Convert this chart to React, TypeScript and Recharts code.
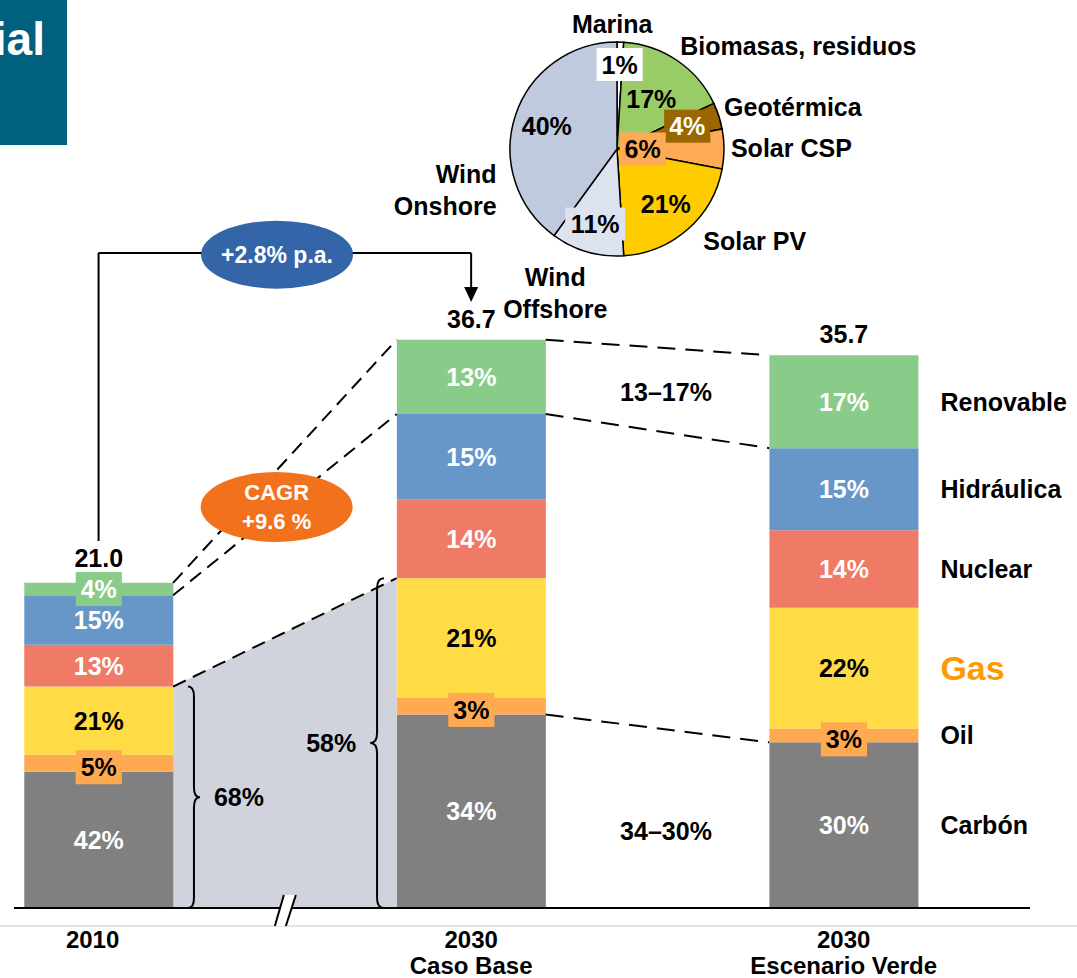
import {
  Bar,
  Cell,
  ComposedChart,
  LabelList,
  Pie,
  PieChart,
  ReferenceArea,
  ReferenceDot,
  ReferenceLine,
  XAxis,
  YAxis,
} from "recharts";

const FONT = "'Liberation Sans', Arial, Helvetica, sans-serif";

// bar categories (numeric x so the bars can sit where the slide puts them)
const categoryX = [0, 1, 2];
const categoryYear = ["2010", "2030", "2030"];
const categoryCase = ["", "Caso Base", "Escenario Verde"];

// generation by source
const carbon = [8.8, 12.5, 10.7];
const oil = [1.1, 1.1, 0.9];
const gas = [4.4, 7.7, 7.8];
const nuclear = [2.7, 5.1, 5.0];
const hydro = [3.2, 5.5, 5.3];
const renewable = [0.8, 4.8, 6.0];
const totals = [21.0, 36.7, 35.7];

// shares printed inside the segments
const carbonShare = [42, 34, 30];
const oilShare = [5, 3, 3];
const gasShare = [21, 21, 22];
const nuclearShare = [13, 14, 14];
const hydroShare = [15, 15, 15];
const renewableShare = [4, 13, 17];

// renewable mix pie
const pieNames = ["Marina", "Biomasas, residuos", "Geotérmica", "Solar CSP", "Solar PV", "Wind Offshore", "Wind Onshore"];
const pieShares = [1, 17, 4, 6, 21, 11, 40];

const series = [
  { key: "carbon", name: "Carbón", color: "#808080", text: "#fff", shares: carbonShare, dy: 0 },
  { key: "oil", name: "Oil", color: "#FFAA50", text: "#000", shares: oilShare, dy: 4 },
  { key: "gas", name: "Gas", color: "#FFDC46", text: "#000", shares: gasShare, dy: 0 },
  { key: "nuclear", name: "Nuclear", color: "#EF7A65", text: "#fff", shares: nuclearShare, dy: 0 },
  { key: "hydro", name: "Hidráulica", color: "#6796C9", text: "#fff", shares: hydroShare, dy: 0 },
  { key: "renewable", name: "Renovable", color: "#89CB88", text: "#fff", shares: renewableShare, dy: 0 },
];

const rows = categoryX.map((x, i) => ({
  x,
  carbon: carbon[i],
  oil: oil[i],
  gas: gas[i],
  nuclear: nuclear[i],
  hydro: hydro[i],
  renewable: renewable[i],
}));

const pieColors = ["#FFFFFF", "#99CC66", "#996600", "#FFAA55", "#FFCC00", "#DCE2EE", "#C0CADF"];
// label styling for the pie
const pctRadius = [0.79, 0.57, 0.69, 0.24, 0.69, 0.73, 0.69];
const pctBox = ["#FFFFFF", "", "#996600", "#FFAA55", "", "#DCE2EE", ""];
const pctColor = ["#000", "#000", "#fff", "#000", "#000", "#000", "#000"];
const nameRadius = [1.17, 1.13, 1.075, 1.065, 1.18, 1.465, 1.19];
const nameShift = [4, 2.7, 3.4, 0.5, 1.7, -7, 37];
const nameAnchor = ["middle", "start", "start", "start", "start", "middle", "end"];

const textW = (s: string, fs: number) =>
  s.split("").reduce((w, c) => w + (c === "%" ? 0.889 : /[0-9]/.test(c) ? 0.556 : 0.6), 0) * fs;

const stackTop = (i: number, upto: number) =>
  [carbon, oil, gas, nuclear, hydro, renewable].slice(0, upto).reduce((s, a) => s + a[i], 0);

const txt = { fontFamily: FONT, fontWeight: 700 } as const;

function segmentLabel(s: (typeof series)[number]) {
  return (props: any) => {
    const vb = props.viewBox ?? props;
    const x = vb.x ?? props.x;
    const width = vb.width ?? props.width;
    let y = vb.y ?? props.y;
    let height = vb.height ?? props.height;
    if (height < 0) {
      y += height;
      height = -height;
    }
    const index = props.index;
    const t = `${s.shares[index]}%`;
    const cx = x + width / 2;
    const cy = y + height / 2 + s.dy;
    const w = textW(t, 25) + 10;
    return (
      <g>
        <rect x={cx - w / 2} y={cy - 17} width={w} height={34} fill={s.color} />
        <text x={cx} y={cy} textAnchor="middle" dominantBaseline="central" fill={s.text} fontSize={25} style={txt}>
          {t}
        </text>
        {index === 2 && (
          <text
            x={x + width + 22}
            y={y + height / 2}
            dominantBaseline="central"
            fill={s.key === "gas" ? "#FF9900" : "#000"}
            fontSize={s.key === "gas" ? 34 : 25}
            style={txt}
          >
            {s.name}
          </text>
        )}
      </g>
    );
  };
}

const totalLabel = (props: any) => {
  const vb = props.viewBox ?? props;
  const x = vb.x ?? props.x;
  const width = vb.width ?? props.width;
  const y = vb.y ?? props.y;
  return (
    <text x={x + width / 2} y={y - (props.index === 0 ? 25 : 21)} textAnchor="middle" dominantBaseline="central" fontSize={25} style={txt}>
      {totals[props.index].toFixed(1)}
    </text>
  );
};

const CategoryTick = (props: any) => {
  const { x, y, payload } = props;
  const i = categoryX.indexOf(payload.value);
  if (i < 0) return null;
  return (
    <text x={x} y={y} textAnchor="middle" fontSize={24} style={txt}>
      <tspan x={i === 0 ? x - 6 : x} dy={40}>{categoryYear[i]}</tspan>
      {categoryCase[i] && <tspan x={x} dy={26}>{categoryCase[i]}</tspan>}
    </text>
  );
};

function brace(dir: number, label: string) {
  return (p: any) => {
    const stem = p.x + p.width / 2;
    const d = p.width / 2;
    const top = p.y;
    const bot = p.y + p.height;
    const mid = (top + bot) / 2;
    const path = `M${stem - dir * d},${top} Q${stem},${top} ${stem},${top + 10} L${stem},${mid - 10} Q${stem},${mid} ${stem + dir * d},${mid} Q${stem},${mid} ${stem},${mid + 10} L${stem},${bot - 10} Q${stem},${bot} ${stem - dir * d},${bot}`;
    return (
      <g>
        <path d={path} fill="none" stroke="#000" strokeWidth={2} />
        <text
          x={stem + dir * (d + 14)}
          y={mid}
          textAnchor={dir > 0 ? "start" : "end"}
          dominantBaseline="central"
          fontSize={25}
          style={txt}
        >
          {label}
        </text>
      </g>
    );
  };
}

const shadeShape = (leftTop: number, rightTop: number) => (p: any) => {
  const bot = p.y + p.height;
  const yl = bot - (p.height * leftTop) / rightTop;
  return <polygon points={`${p.x},${bot} ${p.x},${yl} ${p.x + p.width},${p.y} ${p.x + p.width},${bot}`} fill="#D0D3DB" />;
};

const bubble = (lines: string[], color: string, rx: number, ry: number, fs: number) => (p: any) => (
  <g>
    <ellipse cx={p.cx} cy={p.cy} rx={rx} ry={ry} fill={color} />
    {lines.map((l, i) => (
      <text
        key={i}
        x={p.cx}
        y={p.cy + (i - (lines.length - 1) / 2) * 29}
        textAnchor="middle"
        dominantBaseline="central"
        fill="#fff"
        fontSize={fs}
        style={txt}
      >
        {l}
      </text>
    ))}
  </g>
);

const plainText = (t: string) => (p: any) => (
  <text x={p.cx} y={p.cy} textAnchor="middle" dominantBaseline="central" fontSize={25} style={txt}>
    {t}
  </text>
);

const arrowHead = (p: any) => <polygon points={`${p.cx - 7},${p.cy - 15} ${p.cx + 7},${p.cy - 15} ${p.cx},${p.cy}`} fill="#000" />;

const axisBreak = (p: any) => (
  <g>
    <polygon points={`${p.cx - 1},${p.cy - 13} ${p.cx + 11},${p.cy - 13} ${p.cx + 1},${p.cy + 18} ${p.cx - 10},${p.cy + 18}`} fill="#fff" />
    <line x1={p.cx - 1} y1={p.cy - 13} x2={p.cx - 10} y2={p.cy + 18} stroke="#000" strokeWidth={2} />
    <line x1={p.cx + 11} y1={p.cy - 13} x2={p.cx + 1} y2={p.cy + 18} stroke="#000" strokeWidth={2} />
  </g>
);

const RAD = Math.PI / 180;
const pieLabel = (props: any) => {
  const { cx, cy, midAngle, outerRadius, index } = props;
  const pr = outerRadius * pctRadius[index];
  const px = cx + pr * Math.cos(midAngle * RAD);
  const py = cy - pr * Math.sin(midAngle * RAD);
  const t = `${pieShares[index]}%`;
  const w = textW(t, 25) + 10;
  const na = midAngle + nameShift[index];
  const nr = outerRadius * nameRadius[index];
  const nx = cx + nr * Math.cos(na * RAD);
  const ny = cy - nr * Math.sin(na * RAD);
  const name = pieNames[index];
  const nameLines = name.startsWith("Wind") ? name.split(" ") : [name];
  return (
    <g>
      {pctBox[index] && <rect x={px - w / 2} y={py - 16.5} width={w} height={33} fill={pctBox[index]} />}
      <text x={px} y={py} textAnchor="middle" dominantBaseline="central" fill={pctColor[index]} fontSize={25} style={txt}>
        {t}
      </text>
      {nameLines.map((l, i) => (
        <text
          key={i}
          x={nx}
          y={ny + (i - (nameLines.length - 1) / 2) * 32}
          textAnchor={nameAnchor[index] as any}
          dominantBaseline="central"
          fill="#000"
          fontSize={25}
          style={txt}
        >
          {l}
        </text>
      ))}
    </g>
  );
};

export default function App() {
  return (
    <div style={{ position: "absolute", left: 0, top: 0, width: 1077, height: 978, background: "#fff", overflow: "hidden" }}>
      <svg width={1077} height={978} style={{ position: "absolute", left: 0, top: 0 }}>
        <rect x={0} y={0} width={67} height={145} fill="#00617F" />
        <text x={45} y={55} textAnchor="end" fill="#fff" fontSize={46} style={txt}>
          ial
        </text>
        <line x1={0} y1={926} x2={1077} y2={926} stroke="#C8C8D0" strokeWidth={1} />
      </svg>

      <div style={{ position: "absolute", left: 0, top: 0 }}>
        <ComposedChart width={1077} height={978} data={rows} margin={{ top: 10, right: 47, left: 14, bottom: 0 }}>
          <XAxis
            dataKey="x"
            type="number"
            domain={[-0.227, 2.5]}
            ticks={categoryX}
            allowDataOverflow
            height={70}
            tickSize={0}
            tickMargin={0}
            tickLine={false}
            axisLine={{ stroke: "#000", strokeWidth: 2 }}
            tick={<CategoryTick />}
            interval={0}
          />
          <YAxis hide domain={[0, 58]} allowDataOverflow />

          <ReferenceArea x1={0.2} x2={0.8} y1={0} y2={stackTop(1, 3)} shape={shadeShape(stackTop(0, 3), stackTop(1, 3))} />

          {series.map((s) => (
            <Bar key={s.key} dataKey={s.key} stackId="a" fill={s.color} barSize={149} isAnimationActive={false}>
              <LabelList content={segmentLabel(s)} />
              {s.key === "renewable" && <LabelList content={totalLabel} />}
            </Bar>
          ))}

          <ReferenceArea x1={0.24} x2={0.272} y1={0} y2={stackTop(0, 3)} shape={brace(1, "68%")} />
          <ReferenceArea x1={0.729} x2={0.766} y1={0} y2={stackTop(1, 3)} shape={brace(-1, "58%")} />

          {/* dashed links between the bars */}
          <ReferenceLine segment={[{ x: 0.2, y: totals[0] }, { x: 0.8, y: totals[1] }]} stroke="#000" strokeWidth={2} strokeDasharray="14 8" />
          <ReferenceLine segment={[{ x: 0.2, y: stackTop(0, 5) }, { x: 0.8, y: stackTop(1, 5) }]} stroke="#000" strokeWidth={2} strokeDasharray="14 8" />
          <ReferenceLine segment={[{ x: 0.2, y: stackTop(0, 3) }, { x: 0.8, y: stackTop(1, 3) }]} stroke="#000" strokeWidth={2} strokeDasharray="14 8" />
          <ReferenceLine segment={[{ x: 1.2, y: totals[1] }, { x: 1.8, y: totals[2] }]} stroke="#000" strokeWidth={2} strokeDasharray="18 10" />
          <ReferenceLine segment={[{ x: 1.2, y: stackTop(1, 5) }, { x: 1.8, y: stackTop(2, 5) }]} stroke="#000" strokeWidth={2} strokeDasharray="18 10" />
          <ReferenceLine segment={[{ x: 1.2, y: stackTop(1, 1) }, { x: 1.8, y: stackTop(2, 1) }]} stroke="#000" strokeWidth={2} strokeDasharray="18 10" />

          {/* growth connector */}
          <ReferenceLine segment={[{ x: 0, y: 23.7 }, { x: 0, y: 42.3 }]} stroke="#000" strokeWidth={2} />
          <ReferenceLine segment={[{ x: 0, y: 42.3 }, { x: 1, y: 42.3 }]} stroke="#000" strokeWidth={2} />
          <ReferenceLine segment={[{ x: 1, y: 42.3 }, { x: 1, y: 40.0 }]} stroke="#000" strokeWidth={2} />
          <ReferenceDot x={1} y={39.14} r={0} shape={arrowHead} />
          <ReferenceDot x={0.479} y={42.2} r={0} shape={bubble(["+2.8% p.a."], "#3465A8", 76, 34, 23)} />
          <ReferenceDot x={0.478} y={25.9} r={0} shape={bubble(["CAGR", "+9.6 %"], "#F2711C", 76, 35, 22)} />

          <ReferenceDot x={1.523} y={33.3} r={0} shape={plainText("13–17%")} />
          <ReferenceDot x={1.523} y={5.0} r={0} shape={plainText("34–30%")} />
          <ReferenceDot x={0.5} y={0} r={0} shape={axisBreak} />
        </ComposedChart>
      </div>

      <div style={{ position: "absolute", left: 0, top: 0 }}>
        <PieChart width={1077} height={330} margin={{ top: 0, right: 0, bottom: 0, left: 0 }}>
          <Pie
            data={pieNames.map((n, i) => ({ name: n, value: pieShares[i] }))}
            dataKey="value"
            cx={617}
            cy={149}
            outerRadius={107}
            startAngle={90}
            endAngle={-270}
            stroke="#000"
            strokeWidth={1.5}
            label={pieLabel}
            labelLine={false}
            isAnimationActive={false}
          >
            {pieNames.map((n, i) => (
              <Cell key={n} fill={pieColors[i]} />
            ))}
          </Pie>
        </PieChart>
      </div>
    </div>
  );
}
